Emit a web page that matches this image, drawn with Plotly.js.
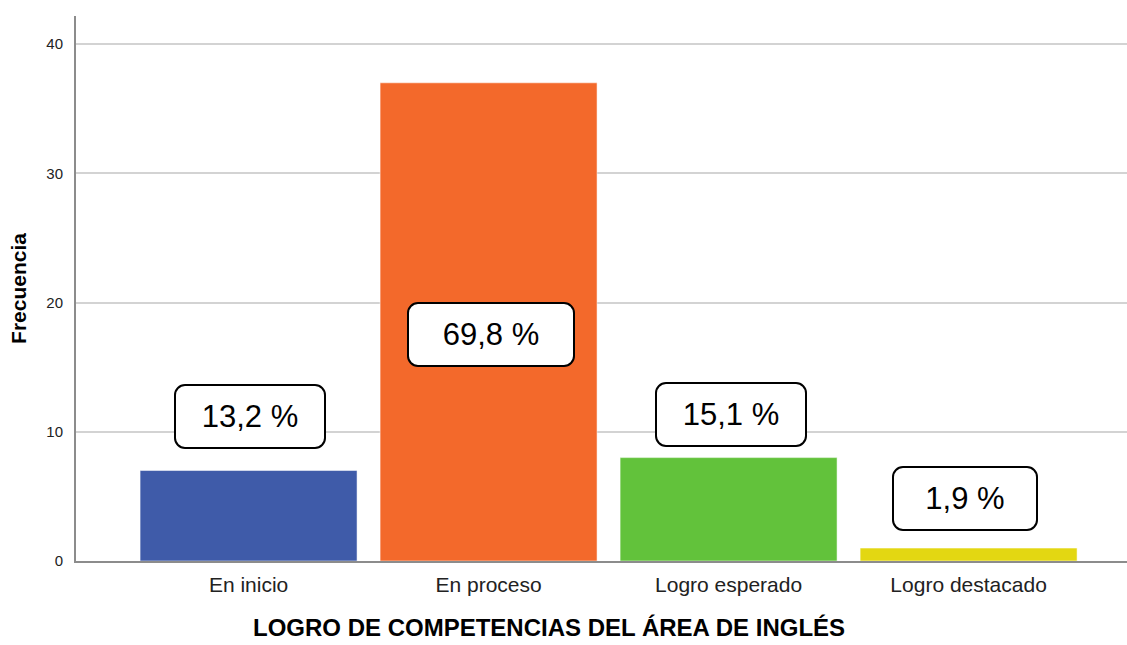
<!DOCTYPE html>
<html>
<head>
<meta charset="utf-8">
<script src="https://cdn.plot.ly/plotly-3.0.1.min.js"></script>
<style>html,body{margin:0;padding:0;background:#fff}#chart{width:1127px;height:645px}</style>
</head>
<body>
<div id="chart"></div>
<script>
const categories = ["En inicio", "En proceso", "Logro esperado", "Logro destacado"];
const frequencies = [7, 37, 8, 1];
const percentLabels = ["13,2 %", "69,8 %", "15,1 %", "1,9 %"];
const barColors = ["#3f5ba9", "#f3692b", "#62c23b", "#e3d712"];
const labelY = [11.2, 17.5, 11.3, 4.8];
const labelWidths = [144, 160, 144, 138];
const labelShift = [1, 2, 2, -4];

const FONT = "Arial, Liberation Sans, sans-serif";

const trace = {
  type: "bar",
  x: categories,
  y: frequencies,
  marker: {color: barColors, line: {color: "rgba(255,255,255,0.5)", width: 1}},
  width: 0.904,
  hoverinfo: "x+y"
};

const annotations = categories.map((c, i) => ({
  x: c, y: labelY[i], xref: "x", yref: "y",
  text: percentLabels[i], showarrow: false,
  font: {family: FONT, size: 31, color: "#000"},
  bgcolor: "#fff", bordercolor: "#000", borderwidth: 2, borderpad: 2,
  width: labelWidths[i], height: 57, xshift: labelShift[i]
}));
annotations.push({
  text: "LOGRO DE COMPETENCIAS DEL ÁREA DE INGLÉS",
  xref: "paper", yref: "paper", x: (549 - 76) / (1127 - 76), y: 0,
  yshift: -82, showarrow: false, xanchor: "center", yanchor: "bottom",
  font: {family: FONT, size: 24, color: "#000", weight: "bold"}
});

const layout = {
  width: 1127, height: 645,
  margin: {l: 76, r: 0, t: 16, b: 84},
  paper_bgcolor: "#fff", plot_bgcolor: "#fff",
  showlegend: false,
  xaxis: {
    type: "category", range: [-0.719, 3.66],
    showgrid: false, zeroline: false, showline: true, linecolor: "#8c8c8c", linewidth: 2,
    ticks: "", ticklabelstandoff: 4,
    tickfont: {family: FONT, size: 21, color: "#222"}
  },
  yaxis: {
    range: [0, 42.17], tickvals: [0, 10, 20, 30, 40],
    showgrid: true, gridcolor: "#d3d3d3", gridwidth: 2, zeroline: false,
    showline: true, linecolor: "#8c8c8c", linewidth: 2, ticks: "",
    ticklabelstandoff: 8,
    tickfont: {family: FONT, size: 15, color: "#222"},
    title: {text: "Frecuencia", standoff: 14,
      font: {family: FONT, size: 21, color: "#000", weight: "bold"}}
  },
  annotations: annotations
};

Plotly.newPlot("chart", [trace], layout, {displayModeBar: false}).then(() => {
  document.querySelectorAll("#chart .annotation .bg").forEach(r => {
    r.setAttribute("rx", 10); r.setAttribute("ry", 10);
  });
});
</script>
</body>
</html>
